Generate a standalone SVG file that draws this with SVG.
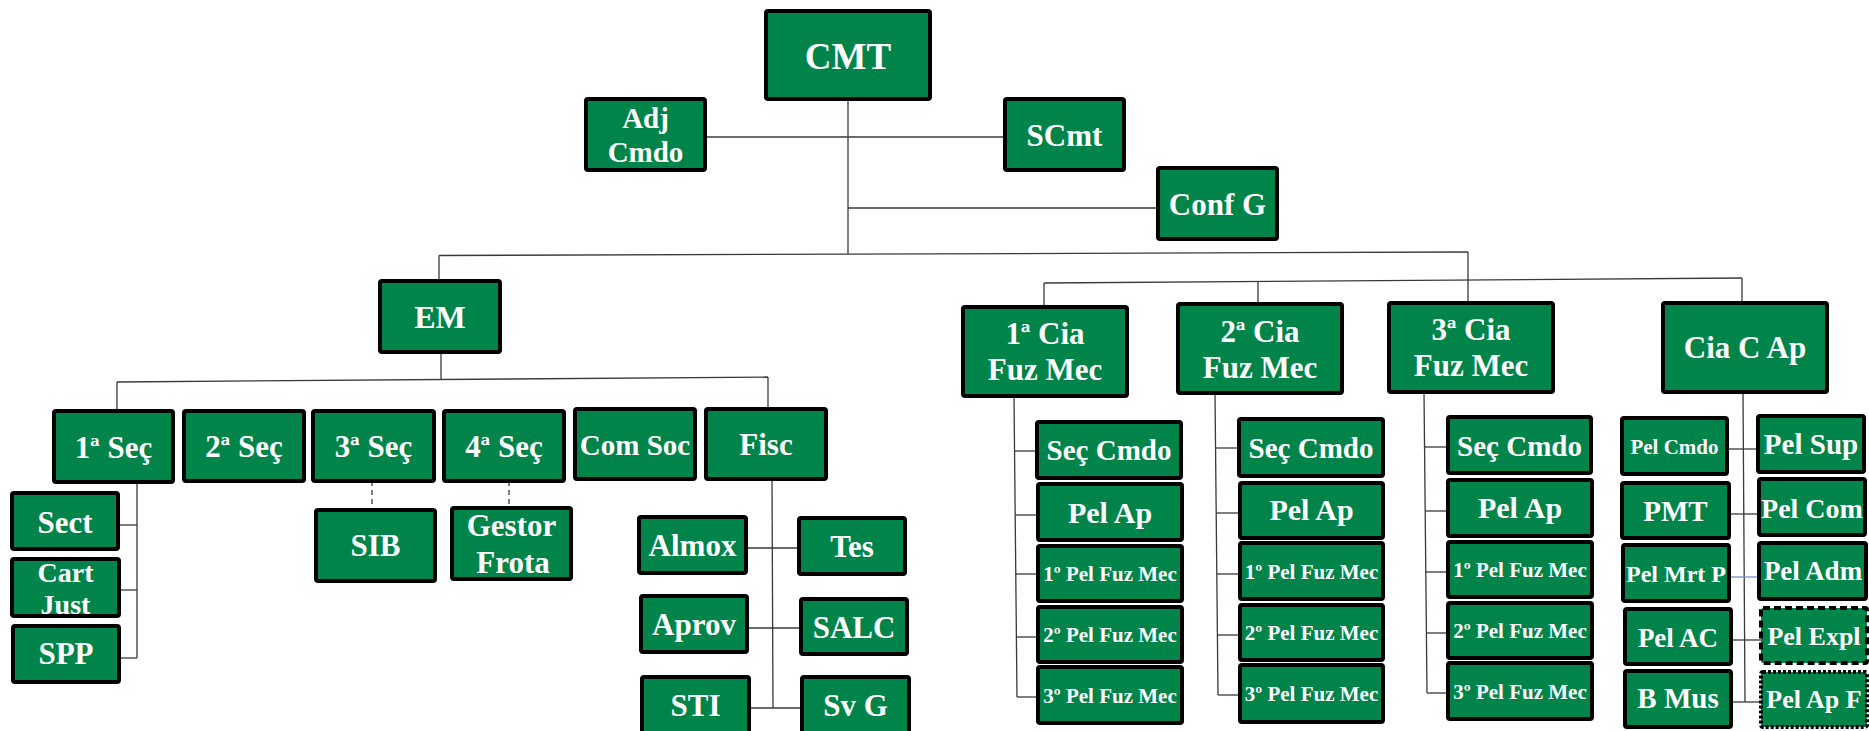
<svg xmlns="http://www.w3.org/2000/svg" width="1869" height="731" viewBox="0 0 1869 731">
<style>
.b{fill:#00844A;stroke:#000;stroke-width:4}
.bd{fill:#00844A;stroke:#000;stroke-width:4;stroke-dasharray:7 4}
.bo{fill:#00844A;stroke:#000;stroke-width:4;stroke-dasharray:3 2}
text{font-family:"Liberation Serif","Times New Roman",serif;font-weight:bold;fill:#fff;text-anchor:middle}
.c line,.c polyline{stroke:#3a3a3a;stroke-width:1.3;fill:none}
.c .dash{stroke-dasharray:5 4}
.c .blue{stroke:#6f8fd0}
</style>
<rect width="1869" height="731" fill="#fff"/>
<g class="c" id="connectors">
<line x1="848" y1="99" x2="848" y2="254"/>
<line x1="705" y1="137" x2="1005" y2="137"/>
<line x1="848" y1="208" x2="1158" y2="208"/>
<line x1="439" y1="255.5" x2="1468" y2="252"/>
<line x1="439" y1="255.5" x2="439" y2="281"/>
<line x1="1468" y1="252" x2="1468" y2="303"/>
<line x1="1044" y1="283" x2="1742" y2="278"/>
<line x1="1044" y1="283" x2="1044" y2="307"/>
<line x1="1258" y1="281.5" x2="1258" y2="304"/>
<line x1="1742" y1="278" x2="1742" y2="303"/>
<line x1="441" y1="352" x2="441" y2="379"/>
<line x1="117" y1="382" x2="768" y2="377"/>
<line x1="117" y1="382" x2="117" y2="411"/>
<line x1="768" y1="377" x2="768" y2="409"/>
<line x1="137" y1="482" x2="137" y2="658"/>
<line x1="118" y1="525" x2="137" y2="525"/>
<line x1="119" y1="590" x2="137" y2="590"/>
<line x1="119" y1="658" x2="137" y2="658"/>
<line class="dash" x1="372" y1="481" x2="372" y2="510"/>
<line class="dash" x1="509" y1="481" x2="509" y2="508"/>
<line x1="772" y1="479" x2="773" y2="708"/>
<line x1="746" y1="548" x2="799" y2="548"/>
<line x1="747" y1="628" x2="801" y2="628"/>
<line x1="749" y1="708" x2="802" y2="708"/>
<line x1="1014" y1="396" x2="1017" y2="697"/>
<line x1="1015" y1="451" x2="1037" y2="451"/>
<line x1="1015" y1="515" x2="1038" y2="515"/>
<line x1="1016" y1="574" x2="1038" y2="574"/>
<line x1="1016" y1="637" x2="1038" y2="637"/>
<line x1="1017" y1="697" x2="1038" y2="697"/>
<line x1="1215" y1="393" x2="1218" y2="695"/>
<line x1="1216" y1="448" x2="1239" y2="448"/>
<line x1="1216" y1="513" x2="1240" y2="513"/>
<line x1="1217" y1="574" x2="1240" y2="574"/>
<line x1="1217" y1="635" x2="1240" y2="635"/>
<line x1="1218" y1="695" x2="1240" y2="695"/>
<line x1="1424" y1="392" x2="1427" y2="693"/>
<line x1="1424" y1="447" x2="1448" y2="447"/>
<line x1="1425" y1="511" x2="1448" y2="511"/>
<line x1="1425" y1="572" x2="1448" y2="572"/>
<line x1="1426" y1="633" x2="1448" y2="633"/>
<line x1="1427" y1="693" x2="1448" y2="693"/>
<line x1="1743" y1="392" x2="1745" y2="702"/>
<line x1="1727" y1="449" x2="1758" y2="449"/>
<line x1="1729" y1="514" x2="1759" y2="514"/>
<line class="blue" x1="1729" y1="577" x2="1759" y2="577"/>
<line x1="1731" y1="640" x2="1761" y2="640"/>
<line x1="1731" y1="702" x2="1761" y2="702"/>
</g>
<g id="cmt"><rect class="b" x="766" y="11" width="164" height="88" rx="2"/><text x="848" y="69" font-size="37">CMT</text></g>
<g id="adj-cmdo"><rect class="b" x="586" y="99" width="119" height="71" rx="2"/><text x="645.5" y="128" font-size="29">Adj</text><text x="645.5" y="162" font-size="29">Cmdo</text></g>
<g id="scmt"><rect class="b" x="1005" y="99" width="119" height="71" rx="2"/><text x="1064.5" y="146" font-size="31">SCmt</text></g>
<g id="conf-g"><rect class="b" x="1158" y="168" width="119" height="71" rx="2"/><text x="1217.5" y="215" font-size="31">Conf G</text></g>
<g id="em"><rect class="b" x="380" y="281" width="120" height="71" rx="2"/><text x="440" y="328" font-size="32">EM</text></g>
<g id="cia1"><rect class="b" x="963" y="307" width="164" height="89" rx="2"/><text x="1045" y="344" font-size="31">1ª Cia</text><text x="1045" y="380" font-size="31">Fuz Mec</text></g>
<g id="cia2"><rect class="b" x="1178" y="304" width="164" height="89" rx="2"/><text x="1260" y="342" font-size="31">2ª Cia</text><text x="1260" y="378" font-size="31">Fuz Mec</text></g>
<g id="cia3"><rect class="b" x="1389" y="303" width="164" height="89" rx="2"/><text x="1471" y="340" font-size="31">3ª Cia</text><text x="1471" y="376" font-size="31">Fuz Mec</text></g>
<g id="cia-c-ap"><rect class="b" x="1663" y="303" width="164" height="89" rx="2"/><text x="1745" y="358" font-size="31">Cia C Ap</text></g>
<g id="sec1"><rect class="b" x="54" y="411" width="119" height="71" rx="2"/><text x="113.5" y="458" font-size="31">1ª Seç</text></g>
<g id="sec2"><rect class="b" x="184" y="411" width="120" height="70" rx="2"/><text x="244" y="457" font-size="31">2ª Seç</text></g>
<g id="sec3"><rect class="b" x="313" y="411" width="121" height="70" rx="2"/><text x="373.5" y="457" font-size="31">3ª Seç</text></g>
<g id="sec4"><rect class="b" x="444" y="411" width="120" height="70" rx="2"/><text x="504" y="457" font-size="31">4ª Seç</text></g>
<g id="com-soc"><rect class="b" x="575" y="409" width="120" height="70" rx="2"/><text x="635" y="455" font-size="29">Com Soc</text></g>
<g id="fisc"><rect class="b" x="706" y="409" width="120" height="70" rx="2"/><text x="766" y="455" font-size="31">Fisc</text></g>
<g id="sect"><rect class="b" x="12" y="493" width="106" height="56" rx="2"/><text x="65" y="533" font-size="31">Sect</text></g>
<g id="cart-just"><rect class="b" x="12" y="559" width="107" height="57" rx="2"/><text x="65.5" y="582" font-size="28">Cart</text><text x="65.5" y="614" font-size="28">Just</text></g>
<g id="spp"><rect class="b" x="13" y="626" width="106" height="56" rx="2"/><text x="66" y="664" font-size="31">SPP</text></g>
<g id="sib"><rect class="b" x="316" y="510" width="119" height="71" rx="2"/><text x="375.5" y="556" font-size="31">SIB</text></g>
<g id="gestor-frota"><rect class="b" x="452" y="508" width="119" height="71" rx="2"/><text x="511.5" y="536" font-size="31">Gestor</text><text x="513" y="573" font-size="31">Frota</text></g>
<g id="almox"><rect class="b" x="639" y="517" width="107" height="56" rx="2"/><text x="692.5" y="556" font-size="31">Almox</text></g>
<g id="tes"><rect class="b" x="799" y="518" width="106" height="56" rx="2"/><text x="852" y="557" font-size="31">Tes</text></g>
<g id="aprov"><rect class="b" x="641" y="596" width="106" height="56" rx="2"/><text x="694" y="635" font-size="31">Aprov</text></g>
<g id="salc"><rect class="b" x="801" y="599" width="106" height="55" rx="2"/><text x="854" y="638" font-size="31">SALC</text></g>
<g id="sti"><rect class="b" x="642" y="677" width="107" height="62" rx="2"/><text x="695.5" y="716" font-size="31">STI</text></g>
<g id="sv-g"><rect class="b" x="802" y="677" width="107" height="62" rx="2"/><text x="855.5" y="716" font-size="31">Sv G</text></g>
<g id="c1-sec-cmdo"><rect class="b" x="1037" y="422" width="144" height="56" rx="2"/><text x="1109" y="460" font-size="29">Seç Cmdo</text></g>
<g id="c1-pel-ap"><rect class="b" x="1038" y="484" width="144" height="56" rx="2"/><text x="1110" y="523" font-size="30">Pel Ap</text></g>
<g id="c1-pel1"><rect class="b" x="1038" y="546" width="144" height="55" rx="2"/><text x="1110" y="581" font-size="21">1º Pel Fuz Mec</text></g>
<g id="c1-pel2"><rect class="b" x="1038" y="607" width="144" height="55" rx="2"/><text x="1110" y="642" font-size="21">2º Pel Fuz Mec</text></g>
<g id="c1-pel3"><rect class="b" x="1038" y="667" width="144" height="56" rx="2"/><text x="1110" y="703" font-size="21">3º Pel Fuz Mec</text></g>
<g id="c2-sec-cmdo"><rect class="b" x="1239" y="419" width="144" height="57" rx="2"/><text x="1311" y="458" font-size="29">Seç Cmdo</text></g>
<g id="c2-pel-ap"><rect class="b" x="1240" y="483" width="143" height="55" rx="2"/><text x="1311.5" y="520" font-size="30">Pel Ap</text></g>
<g id="c2-pel1"><rect class="b" x="1240" y="543" width="143" height="56" rx="2"/><text x="1311.5" y="579" font-size="21">1º Pel Fuz Mec</text></g>
<g id="c2-pel2"><rect class="b" x="1240" y="605" width="143" height="55" rx="2"/><text x="1311.5" y="640" font-size="21">2º Pel Fuz Mec</text></g>
<g id="c2-pel3"><rect class="b" x="1240" y="665" width="143" height="57" rx="2"/><text x="1311.5" y="701" font-size="21">3º Pel Fuz Mec</text></g>
<g id="c3-sec-cmdo"><rect class="b" x="1448" y="417" width="143" height="56" rx="2"/><text x="1519.5" y="456" font-size="29">Seç Cmdo</text></g>
<g id="c3-pel-ap"><rect class="b" x="1448" y="480" width="144" height="56" rx="2"/><text x="1520" y="518" font-size="30">Pel Ap</text></g>
<g id="c3-pel1"><rect class="b" x="1448" y="542" width="144" height="55" rx="2"/><text x="1520" y="577" font-size="21">1º Pel Fuz Mec</text></g>
<g id="c3-pel2"><rect class="b" x="1448" y="603" width="144" height="55" rx="2"/><text x="1520" y="638" font-size="21">2º Pel Fuz Mec</text></g>
<g id="c3-pel3"><rect class="b" x="1448" y="663" width="144" height="56" rx="2"/><text x="1520" y="699" font-size="21">3º Pel Fuz Mec</text></g>
<g id="pel-cmdo"><rect class="b" x="1622" y="418" width="105" height="56" rx="2"/><text x="1674.5" y="454" font-size="21">Pel Cmdo</text></g>
<g id="pmt"><rect class="b" x="1622" y="483" width="107" height="55" rx="2"/><text x="1675.5" y="521" font-size="29">PMT</text></g>
<g id="pel-mrt-p"><rect class="b" x="1623" y="545" width="106" height="56" rx="2"/><text x="1676" y="582" font-size="24">Pel Mrt P</text></g>
<g id="pel-ac"><rect class="b" x="1625" y="609" width="106" height="55" rx="2"/><text x="1678" y="647" font-size="27">Pel AC</text></g>
<g id="b-mus"><rect class="b" x="1625" y="671" width="106" height="56" rx="2"/><text x="1678" y="708" font-size="29">B Mus</text></g>
<g id="pel-sup"><rect class="b" x="1758" y="416" width="106" height="56" rx="2"/><text x="1811" y="454" font-size="29">Pel Sup</text></g>
<g id="pel-com"><rect class="b" x="1759" y="479" width="106" height="56" rx="2"/><text x="1812" y="518" font-size="28">Pel Com</text></g>
<g id="pel-adm"><rect class="b" x="1759" y="543" width="107" height="56" rx="2"/><text x="1813" y="580" font-size="27">Pel Adm</text></g>
<g id="pel-expl"><rect class="bd" x="1761" y="608" width="106" height="55" rx="2"/><text x="1814" y="645" font-size="26">Pel Expl</text></g>
<g id="pel-ap-f"><rect class="bo" x="1761" y="672" width="106" height="55" rx="2"/><text x="1814" y="708" font-size="26">Pel Ap F</text></g>
</svg>
